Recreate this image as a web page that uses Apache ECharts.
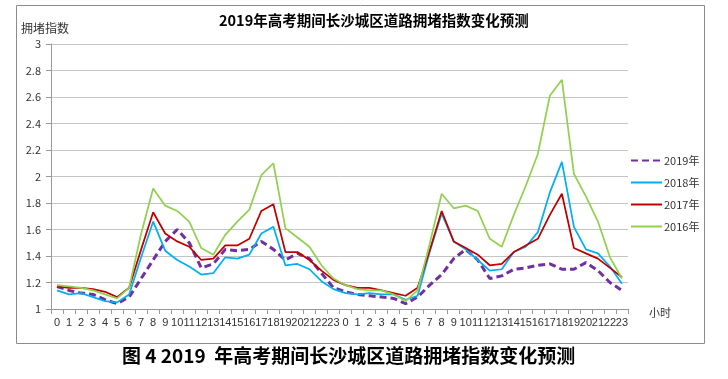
<!DOCTYPE html>
<html><head><meta charset="utf-8">
<script src="https://cdn.jsdelivr.net/npm/echarts@6/dist/echarts.min.js"></script>
<style>html,body{margin:0;padding:0;background:#fff}#c{width:728px;height:379px}</style>
</head><body><div id="c"></div>
<script>
var hours = ['0','1','2','3','4','5','6','7','8','9','10','11','12','13','14','15','16','17','18','19','20','21','22','23',
             '0','1','2','3','4','5','6','7','8','9','10','11','12','13','14','15','16','17','18','19','20','21','22','23'];
var y2019 = [1.17,1.14,1.12,1.11,1.07,1.04,1.09,1.23,1.37,1.51,1.60,1.50,1.31,1.34,1.45,1.44,1.45,1.51,1.45,1.37,1.42,1.38,1.27,1.16,
             1.13,1.11,1.10,1.09,1.08,1.04,1.09,1.18,1.26,1.38,1.45,1.37,1.23,1.25,1.30,1.31,1.33,1.34,1.30,1.30,1.35,1.29,1.20,1.14];
var y2018 = [1.14,1.11,1.12,1.09,1.06,1.05,1.11,1.39,1.66,1.44,1.37,1.32,1.26,1.27,1.39,1.38,1.41,1.57,1.62,1.33,1.34,1.30,1.21,1.15,
             1.12,1.11,1.12,1.11,1.11,1.07,1.10,1.43,1.72,1.51,1.45,1.37,1.29,1.30,1.43,1.47,1.58,1.88,2.11,1.62,1.45,1.42,1.32,1.19];
var y2017 = [1.17,1.16,1.16,1.15,1.13,1.09,1.16,1.45,1.73,1.57,1.51,1.47,1.37,1.38,1.48,1.48,1.53,1.74,1.79,1.43,1.43,1.37,1.29,1.22,
             1.18,1.16,1.16,1.14,1.12,1.10,1.16,1.44,1.74,1.51,1.46,1.41,1.33,1.34,1.43,1.48,1.53,1.71,1.87,1.46,1.42,1.38,1.31,1.24];
var y2016 = [1.18,1.17,1.16,1.14,1.11,1.08,1.16,1.57,1.91,1.78,1.74,1.66,1.46,1.41,1.56,1.66,1.75,2.01,2.10,1.61,1.54,1.47,1.33,1.23,
             1.18,1.15,1.14,1.14,1.11,1.06,1.14,1.49,1.87,1.76,1.78,1.74,1.53,1.47,1.71,1.93,2.17,2.61,2.73,2.02,1.85,1.66,1.39,1.23];
var yTicks = {min: 1, max: 3, interval: 0.2};
var seriesNames = ['2019年','2018年','2017年','2016年'];

var chart = echarts.init(document.getElementById('c'), null, {renderer: 'canvas'});
var font = '"Noto Sans CJK SC", "Liberation Sans", sans-serif';
function ln(name, data, color, width, type) {
  return {name: name, type: 'line', data: data, symbol: 'none', smooth: false,
    lineStyle: {color: color, width: width, type: type}, itemStyle: {color: color}};
}
chart.setOption({
  animation: false,
  textStyle: {fontFamily: font},
  graphic: [
    {type: 'rect', shape: {x: 16.5, y: 5.5, width: 688, height: 338}, style: {fill: 'none', stroke: '#8c8c8c', lineWidth: 1}, z: -1},
    {type: 'text', left: 122, top: 346, style: {text: '图 4 2019  年高考期间长沙城区道路拥堵指数变化预测', font: 'bold 19px "Noto Sans CJK SC", sans-serif', fill: '#000'}},
    {type: 'text', left: 649, top: 307, style: {text: '小时', font: '11px "Noto Sans CJK SC", sans-serif', fill: '#333'}}
  ],
  title: {text: '2019年高考期间长沙城区道路拥堵指数变化预测', left: 219, top: 13, padding: 0,
    textStyle: {fontSize: 14.5, fontWeight: 'bold', color: '#000', fontFamily: font}},
  legend: {orient: 'vertical', left: 625, top: 150, itemGap: 11, itemWidth: 31, itemHeight: 12,
    itemStyle: {opacity: 0},
    data: seriesNames, textStyle: {fontSize: 11, color: '#333', fontFamily: font, padding: [0, 0, 0, -3]}},
  grid: {left: 51, right: 100, top: 44, bottom: 70},
  xAxis: {type: 'category', data: hours, boundaryGap: true,
    axisLine: {lineStyle: {color: '#999'}},
    axisTick: {show: true, length: 5, lineStyle: {color: '#999'}},
    axisLabel: {interval: 0, fontSize: 11, color: '#333', margin: 8, fontFamily: '"Liberation Sans Narrow", "Liberation Sans", sans-serif'}},
  yAxis: {type: 'value', min: yTicks.min, max: yTicks.max, interval: yTicks.interval,
    name: '拥堵指数', nameLocation: 'end', nameGap: 10,
    nameTextStyle: {fontSize: 12, color: '#333', align: 'left', padding: [0, 0, 0, -30]},
    axisLine: {show: true, lineStyle: {color: '#999'}},
    axisTick: {show: true, length: 5, lineStyle: {color: '#999'}},
    splitLine: {lineStyle: {color: '#c4c4c4'}},
    axisLabel: {fontSize: 11, color: '#333', margin: 10}},
  series: [
    ln('2019年', y2019, '#7030A0', 3, [7, 4]),
    ln('2018年', y2018, '#00B0F0', 1.75, 'solid'),
    ln('2017年', y2017, '#C00000', 1.75, 'solid'),
    ln('2016年', y2016, '#92D050', 1.75, 'solid')
  ]
});
</script></body></html>
